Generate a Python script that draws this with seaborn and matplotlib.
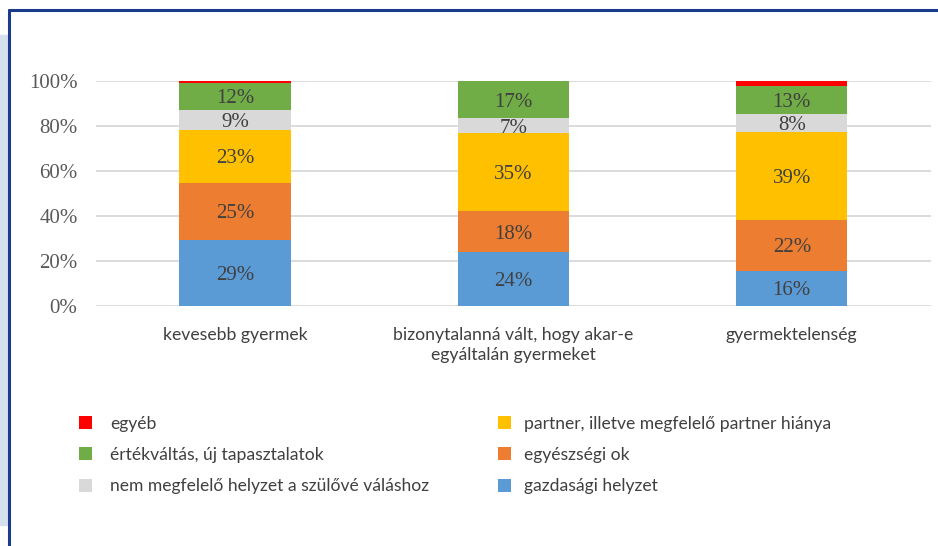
import numpy as np
import pandas as pd
import seaborn as sns
import matplotlib.pyplot as plt
from matplotlib.patches import Patch, Rectangle
from matplotlib.lines import Line2D

# categories on the x axis
categories = ['kevesebb gyermek',
              'bizonytalanná vált, hogy akar-e\negyáltalán gyermeket',
              'gyermektelenség']

# shares in percent, bottom of the stack first
gazdasagi = [29.3, 23.8, 15.7]
egeszsegi = [25.4, 18.3, 22.4]
partner = [23.4, 34.6, 39.3]
szulove = [8.9, 6.6, 7.6]
ertekvaltas = [12.2, 16.7, 12.7]
egyeb = [0.8, 0.0, 2.3]

series_names = ['gazdasági helyzet', 'egyészségi ok',
                'partner, illetve megfelelő partner hiánya',
                'nem megfelelő helyzet a szülővé váláshoz',
                'értékváltás, új tapasztalatok', 'egyéb']
colors = ['#5b9bd5', '#ed7d31', '#ffc000', '#d9d9d9', '#70ad47', '#ff0000']
y_ticks = [0, 20, 40, 60, 80, 100]

df = pd.DataFrame(dict(zip(series_names,
                           [gazdasagi, egeszsegi, partner, szulove, ertekvaltas, egyeb])),
                  index=categories) / 100
cum = df.cumsum(axis=1)

sns.set_style('white')
plt.rcParams['font.family'] = ['Lato', 'DejaVu Sans']

fig = plt.figure(figsize=(9.38, 5.46), dpi=100)
ax = fig.add_axes([0.102, 0.4396, 0.8905, 0.4126])

# stacked bars: draw cumulative totals from the top segment down
for name, color in reversed(list(zip(series_names, colors))):
    sns.barplot(x=categories, y=cum[name].values, order=categories, color=color,
                saturation=1, width=0.4, errorbar=None, linewidth=0,
                edgecolor='none', ax=ax, zorder=2)

# segment labels
for i, cat in enumerate(categories):
    for name in series_names[:-1]:
        val = df.loc[cat, name]
        if val <= 0:
            continue
        mid = cum.loc[cat, name] - val / 2
        ax.text(i, mid, f'{val * 100:.0f}%', ha='center', va='center_baseline',
                fontsize=15, color='#404040', family=['Liberation Serif', 'DejaVu Serif'],
                zorder=3)

ax.set_ylim(0, 1)
ax.set_xlim(-0.5, 2.5)
ax.set_yticks([t / 100 for t in y_ticks])
ax.set_yticklabels([f'{t}%' for t in y_ticks], family=['Liberation Serif', 'DejaVu Serif'],
                   fontsize=15, color='#595959')
ax.set_xticks(range(len(categories)))
ax.set_xticklabels(categories, fontsize=12.7, color='#404040', linespacing=1.35)
ax.tick_params(axis='y', length=0, pad=13)
ax.tick_params(axis='x', length=0, pad=15)
ax.set_xlabel('')
ax.set_ylabel('')
ax.yaxis.grid(True, color='#d9d9d9', lw=1.3)
ax.set_axisbelow(True)
sns.despine(ax=ax, left=True, bottom=True)

# legend, two columns, top of stack first
handles = [Patch(facecolor=c, edgecolor='none') for c in colors]
order = [5, 4, 3, 2, 1, 0]
leg_kw = dict(loc='upper left', frameon=False, borderaxespad=0, borderpad=0,
              handlelength=0.75, handleheight=0.75,
              labelspacing=0.87, fontsize=12.6, labelcolor='#404040')
fig.legend([handles[k] for k in order[:3]], [series_names[k] for k in order[:3]],
           bbox_to_anchor=(0.0842, 0.2385), handletextpad=1.03, **leg_kw)
fig.legend([handles[k] for k in order[3:]], [series_names[k] for k in order[3:]],
           bbox_to_anchor=(0.531, 0.2385), handletextpad=0.75, **leg_kw)

# frame around the chart
fig.add_artist(Rectangle((0, 1 - 525 / 546), 7 / 938, 490 / 546,
                         transform=fig.transFigure, color='#d6dfee', zorder=0))
ytop = 1 - 9.5 / 546
xl = 8.5 / 938
fig.add_artist(Line2D([xl, xl], [0, ytop], transform=fig.transFigure,
                      color='#1a3a8a', lw=2.2))
fig.add_artist(Line2D([xl, 1], [ytop, ytop], transform=fig.transFigure,
                      color='#1a3a8a', lw=2.2))

fig.savefig('out.png', dpi=100)
